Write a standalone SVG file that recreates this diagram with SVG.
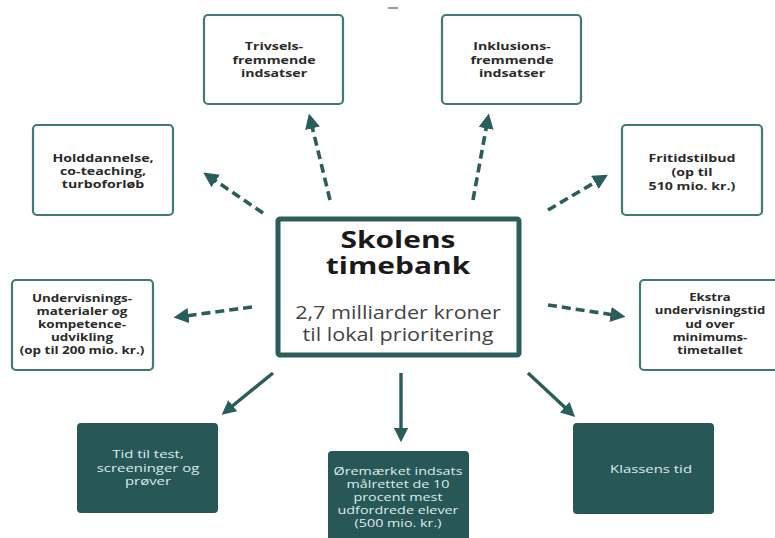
<svg xmlns="http://www.w3.org/2000/svg" width="775" height="538" viewBox="0 0 775 538">
<style>
.ob{fill:#fff;stroke:#3f7a77;stroke-width:2.2}
.fb{fill:#275757;stroke:none}
.t{font-family:"Open Sans","Liberation Sans",sans-serif;font-weight:700;font-size:10.5px;fill:#2a2a2a;text-anchor:middle}
.w{font-family:"Open Sans","Liberation Sans",sans-serif;font-size:10.8px;fill:#dfeceb;text-anchor:middle}
.h{font-family:"Open Sans","Liberation Sans",sans-serif;font-weight:700;font-size:22.5px;fill:#1a1a1a;text-anchor:middle}
.sub{font-family:"Open Sans","Liberation Sans",sans-serif;font-size:18px;fill:#444;text-anchor:middle}
.d{stroke:#2a5e5c;stroke-width:3.6;stroke-dasharray:9 5;fill:none}
.s{stroke:#2a5e5c;stroke-width:3.4;fill:none}
</style>
<defs>
<marker id="ah" viewBox="0 0 10 10" refX="7" refY="5" markerWidth="4.2" markerHeight="4.2" orient="auto" markerUnits="strokeWidth">
<path d="M0,0 L10,5 L0,10 z" fill="#2a5e5c"/>
</marker>
</defs>
<rect width="775" height="538" fill="#fff"/>
<rect x="388" y="7" width="10" height="2" fill="#9a9a9a"/>
<g id="connectors">
<path class="d" d="M330,200 L310,118" marker-end="url(#ah)"/>
<path class="d" d="M473,200 L488,118" marker-end="url(#ah)"/>
<path class="d" d="M263,213 L207,175" marker-end="url(#ah)"/>
<path class="d" d="M548,210 L604,177" marker-end="url(#ah)"/>
<path class="d" d="M252,307 L178,317" marker-end="url(#ah)"/>
<path class="d" d="M548,305 L621,316" marker-end="url(#ah)"/>
<path class="s" d="M273,373 L225,412" marker-end="url(#ah)"/>
<path class="s" d="M401,373 L401,438" marker-end="url(#ah)"/>
<path class="s" d="M528,373 L572,414" marker-end="url(#ah)"/>
</g>
<g id="center">
<rect x="278" y="219" width="241" height="136" rx="2" fill="#fff" stroke="#2a5e5c" stroke-width="5"/>
<g transform="translate(398,0) scale(1.33,1)">
<text class="h" x="0" y="248">Skolens</text>
<text class="h" x="0" y="274">timebank</text>
</g>
<g transform="translate(398,0) scale(1.2,1)">
<text class="sub" x="0" y="319">2,7 milliarder kroner</text>
<text class="sub" x="0" y="341">til lokal prioritering</text>
</g>
</g>
<g id="trivsel">
<rect class="ob" x="204" y="15" width="139" height="89" rx="4"/>
<g transform="translate(274,0) scale(1.35,1)">
<text class="t" x="0" y="50">Trivsels-</text>
<text class="t" x="0" y="64">fremmende</text>
<text class="t" x="0" y="77">indsatser</text>
</g>
</g>
<g id="inklusion">
<rect class="ob" x="442" y="15" width="139" height="89" rx="4"/>
<g transform="translate(512,0) scale(1.35,1)">
<text class="t" x="0" y="50">Inklusions-</text>
<text class="t" x="0" y="64">fremmende</text>
<text class="t" x="0" y="77">indsatser</text>
</g>
</g>
<g id="holddannelse">
<rect class="ob" x="33" y="125" width="140" height="90" rx="4"/>
<g transform="translate(103,0) scale(1.35,1)">
<text class="t" x="0" y="162">Holddannelse,</text>
<text class="t" x="0" y="175">co-teaching,</text>
<text class="t" x="0" y="188">turboforløb</text>
</g>
</g>
<g id="fritid">
<rect class="ob" x="622" y="125" width="140" height="90" rx="4"/>
<g transform="translate(692,0) scale(1.35,1)">
<text class="t" x="0" y="162">Fritidstilbud</text>
<text class="t" x="0" y="176">(op til</text>
<text class="t" x="0" y="190">510 mio. kr.)</text>
</g>
</g>
<g id="undervisningsmaterialer">
<rect class="ob" x="12" y="280" width="141" height="90" rx="4"/>
<g transform="translate(82,0) scale(1.28,1)">
<text class="t" x="0" y="302">Undervisnings-</text>
<text class="t" x="0" y="315">materialer og</text>
<text class="t" x="0" y="328">kompetence-</text>
<text class="t" x="0" y="341">udvikling</text>
<text class="t" x="0" y="354">(op til 200 mio. kr.)</text>
</g>
</g>
<g id="ekstra">
<rect class="ob" x="640" y="280" width="145" height="90" rx="4"/>
<g transform="translate(710,0) scale(1.25,1)">
<text class="t" x="0" y="301">Ekstra</text>
<text class="t" x="0" y="314">undervisningstid</text>
<text class="t" x="0" y="328">ud over</text>
<text class="t" x="0" y="341">minimums-</text>
<text class="t" x="0" y="354">timetallet</text>
</g>
</g>
<g id="test">
<rect class="fb" x="77" y="423" width="141" height="90" rx="4"/>
<g transform="translate(148,0) scale(1.38,1)">
<text class="w" x="0" y="458">Tid til test,</text>
<text class="w" x="0" y="472">screeninger og</text>
<text class="w" x="0" y="485">prøver</text>
</g>
</g>
<g id="oeremaerket">
<rect class="fb" x="328" y="451" width="141" height="95" rx="4"/>
<g transform="translate(398,0) scale(1.33,1)">
<text class="w" x="0" y="475">Øremærket indsats</text>
<text class="w" x="0" y="488">målrettet de 10</text>
<text class="w" x="0" y="501">procent mest</text>
<text class="w" x="0" y="514">udfordrede elever</text>
<text class="w" x="0" y="527">(500 mio. kr.)</text>
</g>
</g>
<g id="klassens">
<rect class="fb" x="573" y="423" width="141" height="91" rx="4"/>
<g transform="translate(651,0) scale(1.38,1)">
<text class="w" x="0" y="473">Klassens tid</text>
</g>
</g>
</svg>
